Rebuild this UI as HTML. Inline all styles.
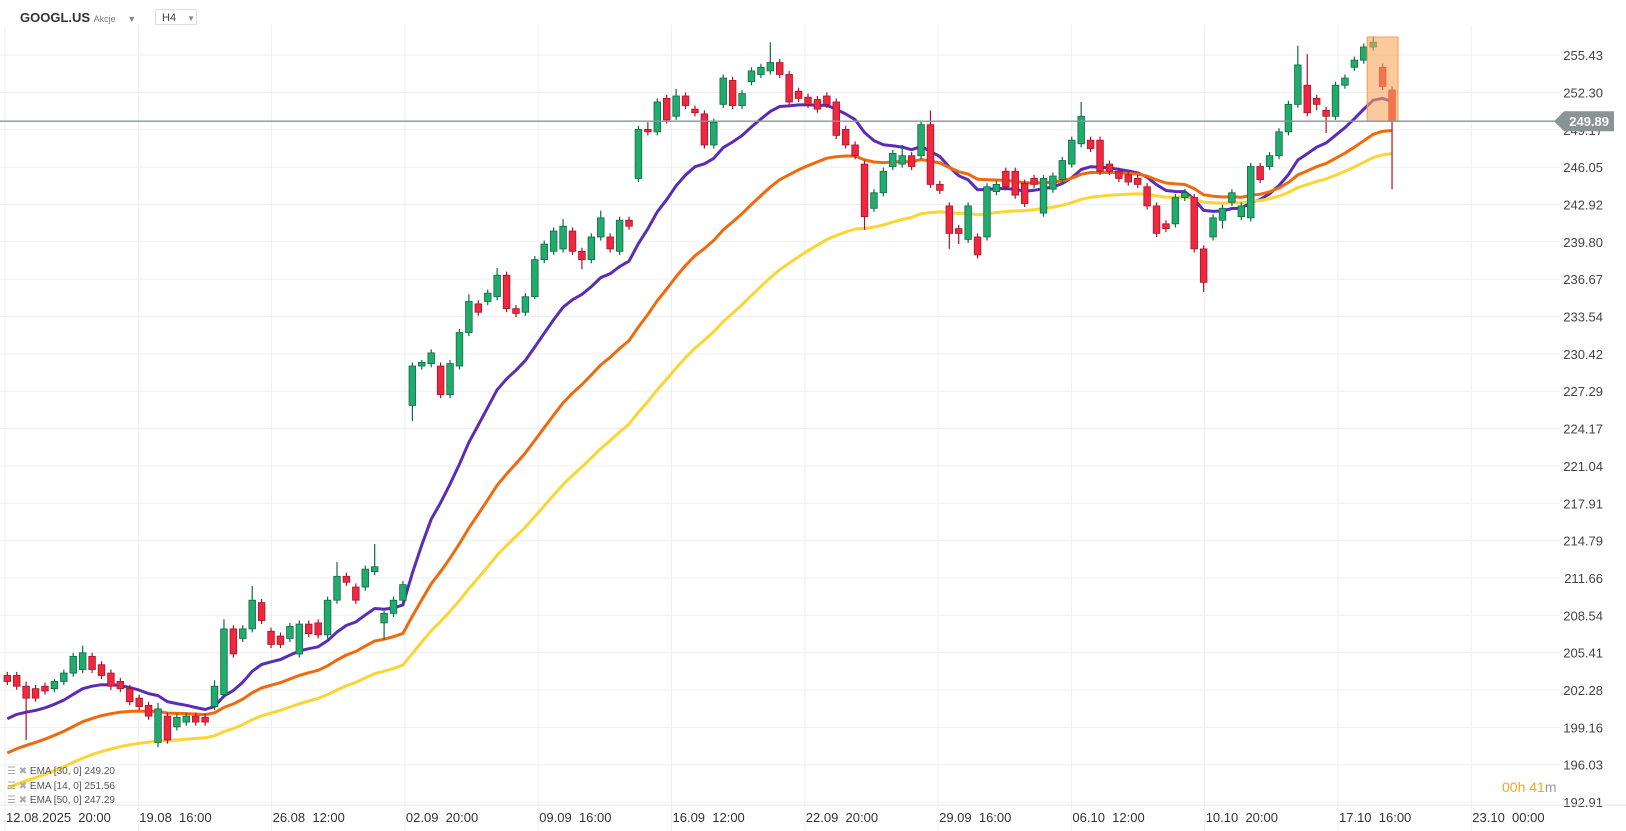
<!DOCTYPE html>
<html><head><meta charset="utf-8"><style>
body{margin:0;background:#fff;font-family:"Liberation Sans",sans-serif;}
#wrap{position:relative;width:1626px;height:831px;overflow:hidden;}
svg{position:absolute;left:0;top:0;}
</style></head><body>
<div id="wrap">
<svg id="chart" width="1626" height="831"></svg>
</div>
<script>
const priceTicks=[255.43,252.30,249.17,246.05,242.92,239.80,236.67,233.54,230.42,227.29,224.17,221.04,217.91,214.79,211.66,208.54,205.41,202.28,199.16,196.03,192.91];
const timeLabels=["12.08.2025  20:00","19.08  16:00","26.08  12:00","02.09  20:00","09.09  16:00","16.09  12:00","22.09  20:00","29.09  16:00","06.10  12:00","10.10  20:00","17.10  16:00","23.10  00:00"];
const opens=[203.5,203.5,202.6,202.4,202.6,202.4,203.0,203.7,204.0,205.1,204.4,203.7,203.0,202.4,201.6,201.0,197.9,200.1,199.2,199.6,200.1,200.0,200.9,201.9,207.4,206.6,207.4,209.6,207.2,206.8,206.6,205.3,207.8,207.9,206.9,209.8,211.8,210.9,210.9,212.2,207.9,208.7,209.8,
226.1,229.4,229.6,229.4,227.0,229.4,232.2,234.6,234.8,235.2,237.0,234.2,233.9,235.2,238.3,239.0,239.2,240.7,239.0,238.3,240.2,240.2,239.0,241.6,245.1,249.2,249.0,251.8,250.3,252.0,250.9,250.5,247.9,251.3,253.3,251.2,253.2,253.8,254.1,254.8,253.8,252.4,251.9,251.7,252.0,251.5,249.2,247.9,246.3,242.6,243.9,246.1,246.3,247.0,247.0,249.6,244.6,242.8,240.9,240.0,240.2,240.2,244.0,245.7,245.7,244.7,245.1,242.2,244.2,245.0,246.3,248.0,248.3,248.3,246.3,245.7,245.4,245.1,244.4,242.8,241.3,241.3,243.5,243.5,239.2,240.2,241.6,243.1,241.9,241.8,246.1,246.1,247.0,249.0,251.3,252.9,251.8,250.8,250.3,252.9,254.4,255.0,256.1,254.4,252.5];
const closes=[203.0,202.6,201.6,201.6,202.2,203.0,203.7,205.1,205.4,204.0,203.5,202.6,202.4,201.3,200.9,200.1,200.7,198.1,200.0,200.1,199.6,199.6,202.6,207.4,205.3,207.4,209.8,208.1,206.1,206.1,207.6,207.8,207.0,206.9,209.8,211.8,211.3,209.8,212.4,212.6,208.7,209.8,211.1,
229.4,229.7,230.5,227.0,229.6,232.2,234.8,233.9,235.5,237.0,234.2,233.8,235.2,238.3,239.6,240.7,241.1,239.0,238.3,240.2,241.8,239.2,241.6,241.1,249.2,249.0,251.5,250.0,252.0,251.2,250.6,247.9,249.8,253.5,251.2,252.2,254.1,254.4,254.8,253.8,251.5,251.8,251.3,250.9,251.3,248.7,247.9,247.0,241.9,243.9,245.7,247.2,247.0,246.1,249.6,244.6,244.1,240.5,240.5,242.8,238.7,244.4,244.6,244.4,243.7,243.0,244.6,245.1,245.3,246.6,248.3,250.3,247.6,245.7,245.7,245.1,244.8,244.6,242.8,240.5,240.9,243.5,243.9,239.2,236.4,241.8,242.6,243.9,242.8,246.1,245.0,247.0,249.0,251.3,254.6,250.6,251.3,250.3,252.9,253.5,255.0,256.1,256.5,252.8,249.89];
const highs=[203.8,203.8,203.0,202.7,202.9,203.2,204.0,205.4,206.0,205.4,204.7,204.0,203.3,202.7,201.9,201.3,201.2,200.4,200.3,200.4,200.4,200.3,203.1,208.2,207.7,207.7,211.0,209.9,207.5,207.1,207.9,208.1,208.1,208.2,210.1,213.0,212.1,211.2,212.7,214.5,208.9,210.1,211.4,
229.7,229.9,230.8,229.7,229.9,232.5,235.4,234.9,235.8,237.6,237.3,234.5,235.5,238.6,239.9,241.0,241.7,241.0,239.3,240.5,242.4,240.5,241.9,241.9,249.5,249.8,251.8,252.1,252.6,252.3,251.2,250.8,250.1,253.8,253.6,252.5,254.4,254.7,256.5,255.1,254.1,252.7,252.2,252.0,252.3,251.8,249.5,248.2,246.6,244.2,246.0,247.5,247.9,247.3,249.9,250.8,244.9,243.1,241.2,243.1,240.5,244.7,244.9,246.0,246.0,245.0,245.4,245.4,245.6,246.9,248.6,251.5,248.6,248.6,246.6,246.0,245.7,245.4,244.7,243.1,241.6,243.8,244.2,243.8,239.5,242.1,242.9,244.2,243.1,246.4,246.4,247.3,249.3,251.6,256.2,255.5,252.1,251.1,253.2,253.8,255.3,256.4,257.0,254.7,252.8];
const lows=[202.7,202.3,198.1,201.3,201.9,202.1,202.7,203.4,203.7,203.7,203.2,202.3,202.1,201.0,200.6,199.8,197.5,197.8,198.9,199.3,199.3,199.3,200.6,201.6,205.0,206.3,207.1,207.8,205.8,205.8,206.3,205.0,206.7,206.6,206.6,209.5,211.0,209.5,210.6,211.9,206.5,208.4,209.5,
224.8,229.1,229.3,226.7,226.7,229.1,231.9,233.6,234.5,234.9,233.9,233.5,233.6,235.0,238.0,238.7,238.9,238.7,237.5,238.0,239.9,238.9,238.7,240.8,244.8,248.7,248.7,249.7,250.0,250.9,250.3,247.6,247.6,251.0,250.9,250.9,252.9,253.5,253.8,253.5,251.2,251.5,251.0,250.6,251.0,248.4,247.6,246.7,240.8,242.3,243.6,245.8,246.0,245.8,246.7,244.3,243.8,239.2,239.6,239.7,238.4,239.9,243.7,244.1,243.4,242.7,244.3,241.9,243.9,244.7,246.0,247.7,247.3,245.4,245.4,244.8,244.5,244.3,242.5,240.2,240.6,241.0,243.2,238.9,235.6,239.9,240.9,242.8,241.6,241.5,244.7,245.8,246.7,248.7,251.0,250.3,250.8,248.9,250.0,252.6,254.1,254.7,255.8,252.5,244.2];
const emaPeriods=[14,30,50];
const emaSeeds=[199.4,196.6,193.7];
const emaColors=["#5a2db8","#f06a0c","#fcd535"];

const NS="http://www.w3.org/2000/svg";
const svg=document.getElementById('chart');
function el(t,a,p){const e=document.createElementNS(NS,t);for(const k in a)e.setAttribute(k,a[k]);(p||svg).appendChild(e);return e;}
const yTop=priceTicks[0],yStep=(priceTicks[0]-priceTicks[priceTicks.length-1])/(priceTicks.length-1);
function y(p){return 55+(yTop-p)/yStep*37.35;}
function x(i){return 7.3+i*9.42;}
function gx(k){return 5+k*133.3;}

// grid
priceTicks.forEach((p,i)=>{
 const l=el('line',{x1:0,x2:1560,y1:y(p),y2:y(p),stroke:'#efefef','stroke-width':1});
 
 
 const t=el('text',{x:1603,y:y(p)+5,'text-anchor':'end','font-size':13,fill:'#444'});
 t.textContent=p.toFixed(2);
 
 
});
timeLabels.forEach((s,k)=>{
 const l=el('line',{x1:gx(k),x2:gx(k),y1:25,y2:831,stroke:'#efefef','stroke-width':1});
 
 
 const t=el('text',{x:gx(k)+1,y:822,'font-size':13,fill:'#333','xml:space':'preserve'});
 t.textContent=s;
 t.style.whiteSpace='pre';
 
 
});
const ax=el('line',{x1:0,x2:1626,y1:805,y2:805,stroke:'#e6e6e6'});



// EMAs
emaPeriods.forEach((n,j)=>{
 const k=2/(n+1);let e=emaSeeds[j];const pts=[];
 closes.forEach((c,i)=>{e=c*k+e*(1-k);pts.push(x(i).toFixed(1)+','+y(e).toFixed(1));});
 const pl=el('polyline',{points:pts.join(' '),fill:'none',stroke:emaColors[j],'stroke-width':3,'stroke-linejoin':'round'});
 
 
});

// candles
closes.forEach((c,i)=>{
 const o=opens[i],up=c>=o;
 const g=el('g',{});
 
 
 el('line',{x1:x(i),x2:x(i),y1:y(highs[i]),y2:y(lows[i]),stroke:up?'#0f6b40':'#a8132c','stroke-width':1.2},g);
 const top=y(Math.max(o,c)),h=Math.max(1.5,Math.abs(y(o)-y(c)));
 el('rect',{x:x(i)-3.3,y:top,width:6.6,height:h,fill:up?'#22ab6e':'#f0283f',stroke:up?'#0f6b40':'#a8132c','stroke-width':0.8},g);
});

// highlight box
const hb=el('rect',{x:x(145)-6,y:37,width:x(147)-x(145)+12,height:y(249.89)-37,fill:'rgba(248,166,90,0.6)',stroke:'#eea050','stroke-width':1});



// current price line & tag
const cp=closes[closes.length-1];
const pl=el('line',{x1:0,x2:1560,y1:y(cp),y2:y(cp),stroke:'#8a9598','stroke-width':1.3});


const tag=el('polygon',{points:`1554,${y(cp)} 1564,${y(cp)-10} 1614,${y(cp)-10} 1614,${y(cp)+10} 1564,${y(cp)+10}`,fill:'#8a9396'});


const tt=el('text',{x:1609,y:y(cp)+5,'text-anchor':'end','font-size':13,'font-weight':'bold',fill:'#fff'});
tt.textContent=cp.toFixed(2);


</script>
<div style="position:absolute;left:0;top:0;width:1626px;height:32px;">
 <div style="position:absolute;left:20px;top:10px;font-size:13px;font-weight:bold;color:#333;">GOOGL.US <span style="font-size:9px;color:#777;font-weight:normal;">Akcje</span> <span style="font-size:9px;color:#888;margin-left:8px;">▼</span></div>
 <div style="position:absolute;left:155px;top:9px;width:42px;height:16px;border:1px solid #ddd;font-size:11px;color:#444;line-height:16px;padding-left:6px;box-sizing:border-box;">H4 <span style="font-size:8px;color:#888;margin-left:8px;">▼</span></div>
</div>
<div style="position:absolute;left:7px;top:765px;font-size:10px;color:#555;line-height:14.5px;">
 <div><span style="color:#aaa">☰ ✖</span> EMA [30, 0] 249.20</div>
 <div><span style="color:#aaa">☰ ✖</span> EMA [14, 0] 251.56</div>
 <div><span style="color:#aaa">☰ ✖</span> EMA [50, 0] 247.29</div>
</div>
<div style="position:absolute;left:1502px;top:779px;font-size:14px;color:#f5a623;">00h 41<span style="color:#999">m</span></div>
</body></html>
